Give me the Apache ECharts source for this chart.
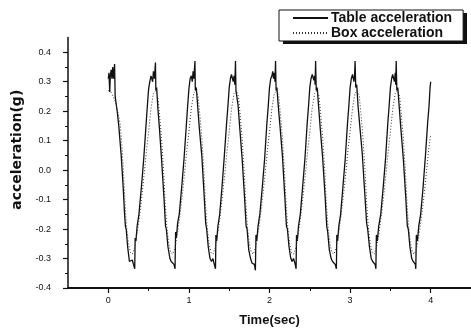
<!DOCTYPE html>
<html>
<head>
<meta charset="utf-8">
<script src="https://cdn.jsdelivr.net/npm/echarts@6/dist/echarts.min.js"></script>
<style>
  html, body { margin: 0; padding: 0; background: #fff; }
  #grafico { width: 471px; height: 332px; }
</style>
</head>
<body>
<div id="grafico"></div>
<script>
// Dados
const xLabels = [0, 1, 2, 3, 4];
const xMinorTicks = [0.5, 1.5, 2.5, 3.5];
const yLabels = [-0.4, -0.3, -0.2, -0.1, 0.0, 0.1, 0.2, 0.3, 0.4];
const yMinorTicks = [-0.35, -0.25, -0.15, -0.05, 0.05, 0.15, 0.25, 0.35];

// Table acceleration [tempo, g]
const tableAcc = [
  [0.000,0.31],[0.008,0.33],[0.018,0.265],[0.025,0.32],[0.035,0.34],[0.045,0.31],[0.055,0.35],[0.065,0.31],[0.078,0.36],[0.085,0.25],[0.095,0.23],[0.110,0.20],[0.130,0.15],[0.160,0.05],[0.185,-0.06],[0.200,-0.14],[0.212,-0.19],[0.222,-0.20],[0.240,-0.26],[0.262,-0.31],[0.280,-0.31],[0.298,-0.305],[0.312,-0.32],[0.328,-0.335],[0.333,-0.23],[0.343,-0.24],[0.358,-0.19],[0.380,-0.15],[0.410,-0.06],[0.440,0.04],[0.465,0.14],[0.480,0.20],
  [0.500,0.275],[0.515,0.30],[0.530,0.32],[0.542,0.325],[0.550,0.30],[0.560,0.335],[0.572,0.31],[0.585,0.365],[0.590,0.27],[0.600,0.28],[0.615,0.21],[0.635,0.14],[0.660,0.04],[0.690,-0.09],[0.710,-0.19],[0.720,-0.20],[0.740,-0.26],[0.765,-0.30],[0.780,-0.31],[0.800,-0.305],[0.815,-0.32],[0.828,-0.335],[0.835,-0.21],[0.845,-0.23],[0.860,-0.18],[0.880,-0.15],[0.910,-0.06],[0.940,0.04],[0.970,0.16],[0.985,0.22],
  [1.000,0.275],[1.015,0.31],[1.030,0.32],[1.042,0.30],[1.052,0.335],[1.062,0.31],[1.075,0.37],[1.080,0.27],[1.092,0.28],[1.108,0.22],[1.130,0.14],[1.160,0.05],[1.188,-0.08],[1.208,-0.18],[1.220,-0.20],[1.240,-0.26],[1.262,-0.30],[1.280,-0.31],[1.298,-0.30],[1.315,-0.32],[1.330,-0.335],[1.335,-0.22],[1.345,-0.24],[1.360,-0.19],[1.382,-0.15],[1.410,-0.06],[1.440,0.05],[1.468,0.16],[1.485,0.22],
  [1.500,0.28],[1.515,0.31],[1.528,0.325],[1.540,0.33],[1.550,0.30],[1.560,0.32],[1.570,0.29],[1.578,0.37],[1.584,0.27],[1.595,0.27],[1.610,0.22],[1.632,0.14],[1.660,0.04],[1.690,-0.09],[1.710,-0.19],[1.722,-0.20],[1.742,-0.27],[1.765,-0.30],[1.782,-0.315],[1.800,-0.31],[1.812,-0.32],[1.825,-0.34],[1.832,-0.22],[1.842,-0.24],[1.858,-0.19],[1.880,-0.15],[1.910,-0.06],[1.940,0.04],[1.968,0.16],[1.985,0.22],
  [2.000,0.28],[2.015,0.31],[2.030,0.32],[2.040,0.335],[2.050,0.31],[2.060,0.33],[2.068,0.30],[2.075,0.37],[2.082,0.27],[2.092,0.28],[2.108,0.22],[2.130,0.15],[2.160,0.05],[2.190,-0.09],[2.210,-0.19],[2.222,-0.20],[2.242,-0.26],[2.265,-0.30],[2.280,-0.31],[2.298,-0.30],[2.315,-0.315],[2.330,-0.335],[2.335,-0.22],[2.345,-0.24],[2.360,-0.19],[2.382,-0.15],[2.410,-0.06],[2.440,0.04],[2.468,0.16],[2.485,0.22],
  [2.500,0.28],[2.515,0.31],[2.530,0.325],[2.540,0.33],[2.550,0.305],[2.560,0.32],[2.566,0.29],[2.572,0.37],[2.580,0.27],[2.592,0.28],[2.608,0.22],[2.630,0.14],[2.660,0.04],[2.690,-0.09],[2.710,-0.19],[2.722,-0.21],[2.742,-0.27],[2.765,-0.30],[2.782,-0.31],[2.800,-0.305],[2.815,-0.32],[2.830,-0.335],[2.835,-0.22],[2.845,-0.24],[2.860,-0.19],[2.882,-0.15],[2.910,-0.06],[2.940,0.04],[2.968,0.16],[2.985,0.22],
  [3.000,0.28],[3.015,0.31],[3.030,0.325],[3.040,0.33],[3.048,0.30],[3.055,0.32],[3.062,0.37],[3.070,0.28],[3.082,0.29],[3.098,0.22],[3.120,0.15],[3.150,0.06],[3.180,-0.07],[3.205,-0.18],[3.218,-0.20],[3.240,-0.26],[3.262,-0.30],[3.280,-0.31],[3.298,-0.305],[3.310,-0.32],[3.320,-0.335],[3.326,-0.22],[3.338,-0.24],[3.355,-0.19],[3.380,-0.15],[3.410,-0.06],[3.440,0.04],[3.468,0.16],[3.485,0.22],
  [3.500,0.28],[3.515,0.31],[3.528,0.325],[3.540,0.33],[3.550,0.30],[3.560,0.33],[3.566,0.29],[3.572,0.37],[3.580,0.27],[3.592,0.28],[3.608,0.22],[3.630,0.14],[3.660,0.04],[3.690,-0.09],[3.710,-0.19],[3.722,-0.20],[3.742,-0.26],[3.765,-0.30],[3.782,-0.31],[3.800,-0.305],[3.810,-0.32],[3.815,-0.335],[3.822,-0.22],[3.835,-0.24],[3.852,-0.19],[3.875,-0.15],[3.905,-0.06],[3.935,0.05],[3.962,0.16],[3.980,0.22],[3.992,0.28],[4.000,0.30]
];

// Box acceleration [tempo, g]
const boxAcc = [
  [0.000,0.27],[0.030,0.265],[0.060,0.25],[0.090,0.23],[0.120,0.195],[0.145,0.16],[0.165,0.10],[0.185,0.01],[0.205,-0.10],[0.225,-0.19],[0.250,-0.25],[0.275,-0.28],[0.300,-0.285],[0.330,-0.26],[0.360,-0.21],[0.390,-0.15],[0.420,-0.08],[0.450,0.00],[0.475,0.07],
  [0.500,0.13],[0.530,0.21],[0.560,0.26],[0.590,0.27],[0.615,0.25],[0.635,0.19],[0.660,0.11],[0.685,0.00],[0.705,-0.11],[0.725,-0.19],[0.750,-0.25],[0.775,-0.28],[0.800,-0.285],[0.830,-0.26],[0.860,-0.21],[0.890,-0.15],[0.920,-0.08],[0.950,0.00],[0.975,0.07],
  [1.000,0.13],[1.030,0.21],[1.060,0.26],[1.090,0.27],[1.115,0.25],[1.135,0.19],[1.160,0.11],[1.185,0.00],[1.205,-0.11],[1.225,-0.19],[1.250,-0.25],[1.275,-0.28],[1.300,-0.285],[1.330,-0.26],[1.360,-0.21],[1.390,-0.15],[1.420,-0.08],[1.450,0.00],[1.475,0.07],
  [1.500,0.13],[1.530,0.21],[1.560,0.26],[1.590,0.27],[1.615,0.25],[1.635,0.19],[1.660,0.11],[1.685,0.00],[1.705,-0.11],[1.725,-0.19],[1.750,-0.25],[1.775,-0.28],[1.800,-0.285],[1.830,-0.26],[1.860,-0.21],[1.890,-0.15],[1.920,-0.08],[1.950,0.00],[1.975,0.07],
  [2.000,0.13],[2.030,0.21],[2.060,0.26],[2.090,0.27],[2.115,0.25],[2.135,0.19],[2.160,0.11],[2.185,0.00],[2.205,-0.11],[2.225,-0.19],[2.250,-0.25],[2.275,-0.28],[2.300,-0.285],[2.330,-0.26],[2.360,-0.21],[2.390,-0.15],[2.420,-0.08],[2.450,0.00],[2.475,0.07],
  [2.500,0.13],[2.530,0.21],[2.560,0.26],[2.590,0.27],[2.615,0.25],[2.635,0.19],[2.660,0.11],[2.685,0.00],[2.705,-0.11],[2.725,-0.19],[2.750,-0.25],[2.775,-0.28],[2.800,-0.285],[2.830,-0.26],[2.860,-0.21],[2.890,-0.15],[2.920,-0.08],[2.950,0.00],[2.975,0.07],
  [3.000,0.13],[3.030,0.21],[3.060,0.26],[3.090,0.27],[3.115,0.25],[3.135,0.19],[3.160,0.11],[3.185,0.00],[3.205,-0.11],[3.225,-0.19],[3.250,-0.25],[3.275,-0.28],[3.300,-0.285],[3.330,-0.26],[3.360,-0.21],[3.390,-0.15],[3.420,-0.08],[3.450,0.00],[3.475,0.07],
  [3.500,0.13],[3.530,0.21],[3.560,0.26],[3.590,0.27],[3.615,0.25],[3.635,0.19],[3.660,0.11],[3.685,0.00],[3.705,-0.11],[3.725,-0.19],[3.750,-0.25],[3.775,-0.28],[3.800,-0.285],[3.830,-0.26],[3.860,-0.21],[3.890,-0.15],[3.920,-0.08],[3.950,0.00],[3.975,0.07],[4.000,0.12]
];

var fonte = '"Liberation Sans", Arial, sans-serif';
var preto = '#111';

var chartDom = document.getElementById('grafico');
var myChart = echarts.init(chartDom);
var option = {
    animation: false,
    backgroundColor: '#fff',
    // sombra da caixa da legenda
    graphic: [
        {
            type: 'rect',
            z: 1,
            silent: true,
            shape: { x: 283, y: 13, width: 184, height: 31 },
            style: { fill: preto }
        }
    ],
    legend: {
        orient: 'vertical',
        left: 279,
        top: 10,
        z: 5,
        padding: [1, 11, 1, 13],
        itemWidth: 35,
        itemHeight: 12,
        itemGap: 1,
        backgroundColor: '#fff',
        borderColor: preto,
        borderWidth: 1,
        borderRadius: 0,
        itemStyle: { opacity: 0 },
        textStyle: { fontFamily: fonte, fontWeight: 'bold', fontSize: 14, color: preto, padding: [0, 0, 0, -2] },
        data: ['Table acceleration', 'Box acceleration']
    },
    grid: {
        left: 68,
        right: -10,
        top: 37.5,
        bottom: 39.5
    },
    xAxis: [
        {
            type: 'value',
            min: -0.5,
            max: 4.5,
            name: 'Time(sec)',
            nameLocation: 'middle',
            nameGap: 26,
            nameTextStyle: { fontFamily: fonte, fontWeight: 'bold', fontSize: 13, color: preto },
            axisLine: { onZero: false, lineStyle: { color: preto, width: 1.8 } },
            axisTick: { customValues: xLabels, length: 5, lineStyle: { color: preto, width: 1.2 } },
            axisLabel: { customValues: xLabels, margin: 8, fontFamily: fonte, fontSize: 9, color: preto },
            splitLine: { show: false }
        },
        {
            type: 'value',
            min: -0.5,
            max: 4.5,
            position: 'bottom',
            axisLine: { show: false, onZero: false },
            axisTick: { customValues: xMinorTicks, length: 3, lineStyle: { color: preto, width: 1 } },
            axisLabel: { show: false },
            splitLine: { show: false }
        }
    ],
    yAxis: [
        {
            type: 'value',
            min: -0.4,
            max: 0.45,
            name: 'acceleration(g)',
            nameLocation: 'middle',
            nameGap: 41,
            nameTextStyle: { fontFamily: '"DejaVu Sans", sans-serif', fontWeight: 'bold', fontSize: 14, color: preto, padding: [0, 0, 0, 26] },
            axisLine: { onZero: false, lineStyle: { color: preto, width: 1.5 } },
            axisTick: { customValues: yLabels, length: 5, lineStyle: { color: preto, width: 1.2 } },
            axisLabel: {
                customValues: yLabels,
                margin: 17,
                fontFamily: fonte,
                fontSize: 9,
                color: preto,
                formatter: function (v) { return v.toFixed(1); }
            },
            splitLine: { show: false }
        },
        {
            type: 'value',
            min: -0.4,
            max: 0.45,
            position: 'left',
            axisLine: { show: false, onZero: false },
            axisTick: { customValues: yMinorTicks, length: 3, lineStyle: { color: preto, width: 1 } },
            axisLabel: { show: false },
            splitLine: { show: false }
        }
    ],
    series: [
        {
            name: 'Table acceleration',
            type: 'line',
            xAxisIndex: 0,
            yAxisIndex: 0,
            showSymbol: false,
            symbol: 'none',
            color: preto,
            lineStyle: { color: preto, width: 1.3 },
            data: tableAcc
        },
        {
            name: 'Box acceleration',
            type: 'line',
            xAxisIndex: 0,
            yAxisIndex: 0,
            showSymbol: false,
            symbol: 'none',
            color: preto,
            lineStyle: { color: '#333', width: 1, type: [1, 2] },
            data: boxAcc
        }
    ]
};

option && myChart.setOption(option);
</script>
</body>
</html>
